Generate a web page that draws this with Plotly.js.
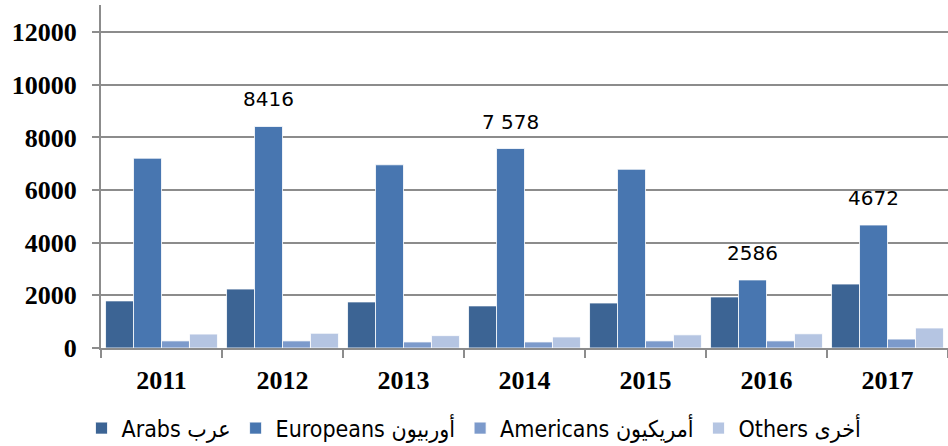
<!DOCTYPE html>
<html>
<head>
<meta charset="utf-8">
<script src="https://cdn.plot.ly/plotly-3.0.1.min.js"></script>
<style>html,body{margin:0;padding:0;background:#fff;}#chart{width:948px;height:446px;}</style>
</head>
<body>
<div id="chart"></div>
<script>
const years = ['2011','2012','2013','2014','2015','2016','2017'];
const arabs = [1790, 2240, 1750, 1600, 1710, 1940, 2430];
const europeans = [7210, 8416, 6960, 7578, 6790, 2586, 4672];
const americans = [270, 270, 230, 230, 270, 270, 340];
const others = [530, 560, 470, 420, 500, 540, 760];
const seriesNames = ['Arabs عرب', 'Europeans أوربيون', 'Americans أمريكيون', 'Others أخرى'];
const seriesColors = ['#3c6494', '#4876b0', '#7c9acb', '#b5c5e2'];
const labelYears = ['2012', '2014', '2016', '2017'];
const labelValues = [8416, 7578, 2586, 4672];
const labelTexts = ['8416', '7 578', '2586', '4672'];

const allSeries = [arabs, europeans, americans, others];
const traces = allSeries.map((vals, i) => ({
  type: 'bar',
  name: seriesNames[i],
  x: years,
  y: vals,
  marker: {color: seriesColors[i], line: {color: 'rgba(255,255,255,0.8)', width: 1}},
  hoverinfo: 'skip'
}));

const annotations = labelYears.map((yr, i) => ({
  x: years.indexOf(yr), y: labelValues[i], xref: 'x', yref: 'y',
  text: labelTexts[i], showarrow: false,
  xshift: -14, yshift: 27,
  font: {family: 'DejaVu Sans, sans-serif', size: 20, color: '#000'}
}));

const tickFont = {family: "'Liberation Serif', 'Times New Roman', serif", size: 26, color: '#000', weight: 'bold'};

const layout = {
  width: 948, height: 446,
  margin: {l: 101, r: 0, t: 5, b: 98},
  paper_bgcolor: '#fff', plot_bgcolor: '#fff',
  barmode: 'group', bargap: 0.075, bargroupgap: 0,
  showlegend: true,
  legend: {
    orientation: 'h', xref: 'container', yref: 'container',
    x: 0.5, xanchor: 'center', y: 0.04, yanchor: 'middle',
    font: {family: "'DejaVu Sans Condensed', 'DejaVu Sans', sans-serif", size: 23, color: '#000'}
  },
  xaxis: {
    type: 'category', showgrid: false, showline: true, linecolor: '#8c8c8c', linewidth: 2,
    ticks: 'outside', tickson: 'boundaries', ticklen: 8, tickcolor: '#8c8c8c', tickwidth: 2,
    ticklabelstandoff: 8,
    tickfont: tickFont,
    zeroline: false
  },
  yaxis: {
    range: [0, 13030], dtick: 2000, tick0: 0, tickformat: 'd',
    showgrid: true, gridcolor: '#8c8c8c', gridwidth: 2,
    showline: true, linecolor: '#8c8c8c', linewidth: 2,
    ticks: 'outside', ticklen: 7, tickcolor: '#8c8c8c', tickwidth: 2,
    ticklabelstandoff: 10,
    tickfont: tickFont,
    zeroline: false
  },
  annotations: annotations
};

Plotly.newPlot('chart', traces, layout, {displayModeBar: false});
</script>
</body>
</html>
